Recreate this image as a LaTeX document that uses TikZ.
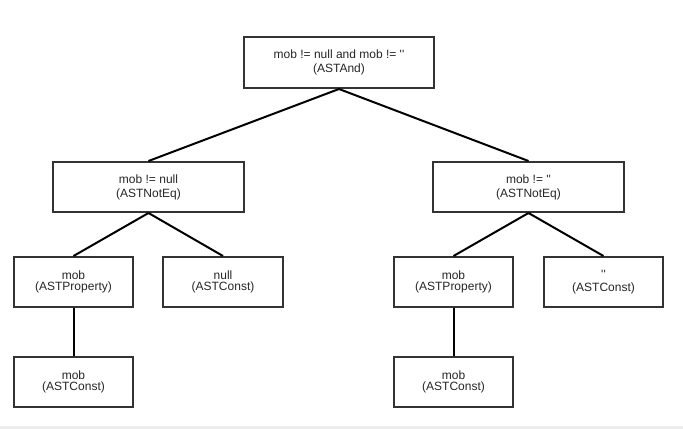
\documentclass[tikz,border=0pt]{standalone}
\usepackage{fontspec}
\newfontfamily\arialfont{Liberation Sans}
\begin{document}
\begin{tikzpicture}[x=1pt,y=-1pt,
  box/.style={draw=boxgray,line width=2pt,fill=white,inner sep=0pt,
    text=black!85,font=\arialfont\fontsize{12}{14}\selectfont,align=center},
  tight/.style={font=\arialfont\fontsize{12}{11}\selectfont},
  edge/.style={draw=black,line width=2pt}]
\definecolor{boxgray}{HTML}{333333}
\useasboundingbox (0,0) rectangle (683,429);
\fill[white] (0,0) rectangle (683,429);
\fill[black!7] (0,426) rectangle (683,429);
% nodes
\node[box,minimum width=190,minimum height=51] (root) at (339,62.5) {mob != null and mob != ''\\(ASTAnd)};
\node[box,minimum width=191,minimum height=50] (ne1) at (148.5,187) {mob != null\\(ASTNotEq)};
\node[box,minimum width=191,minimum height=50] (ne2) at (528.5,187) {mob != ''\\(ASTNotEq)};
\node[box,tight,minimum width=119,minimum height=50] (p1) at (73.5,282) {mob\\(ASTProperty)};
\node[box,tight,minimum width=120,minimum height=50] (c1) at (223,282) {null\\(ASTConst)};
\node[box,tight,minimum width=119,minimum height=50] (p2) at (453.5,282) {mob\\(ASTProperty)};
\node[box,minimum width=119,minimum height=50,font=\arialfont\fontsize{12}{12.5}\selectfont] (c2) at (603.5,282) {''\\(ASTConst)};
\node[box,tight,minimum width=119,minimum height=50] (k1) at (73.5,382) {mob\\(ASTConst)};
\node[box,tight,minimum width=119,minimum height=50] (k2) at (453.5,382) {mob\\(ASTConst)};
% edges
\draw[edge] (root.south) -- (ne1.north);
\draw[edge] (root.south) -- (ne2.north);
\draw[edge] (ne1.south) -- (p1.north);
\draw[edge] (ne1.south) -- (c1.north);
\draw[edge] (ne2.south) -- (p2.north);
\draw[edge] (ne2.south) -- (c2.north);
\draw[edge] (p1.south) -- (k1.north);
\draw[edge] (p2.south) -- (k2.north);
\end{tikzpicture}
\end{document}
